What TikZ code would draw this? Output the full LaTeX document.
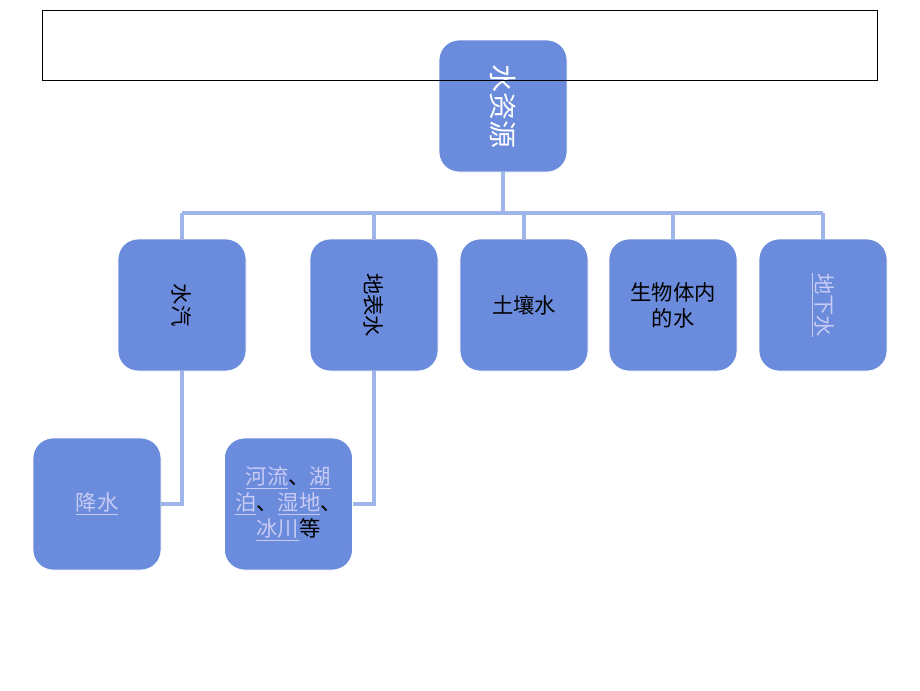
\documentclass[tikz,border=0pt]{standalone}
\usepackage{fontspec}
\setmainfont{Noto Sans CJK SC}
\usepackage{graphicx}
\usetikzlibrary{positioning}

\definecolor{boxblue}{HTML}{6B8BDC}
\definecolor{linkblue}{HTML}{9DB5E8}
\definecolor{hyper}{HTML}{C8CBF4}
\newcommand{\hl}[1]{\textcolor{hyper}{\underline{#1}}}
\newcommand{\vt}[1]{\rotatebox{-90}{#1}}

\begin{document}
\begin{tikzpicture}[
        x=0.75pt, y=-0.75pt,
        every node/.style={font=\fontsize{16}{19.5}\selectfont},
        topic/.style={rectangle, rounded corners=15pt, fill=boxblue, draw=white,
          line width=0.6pt, minimum width=96pt, minimum height=99pt,
          align=center, inner sep=2pt},
        link/.style={draw=linkblue, line width=2.6pt},
    ]
        \useasboundingbox (0,0) rectangle (920,690);

        \node[topic, text=white, font=\fontsize{21}{24}\selectfont] (src) at (503,106) {\vt{水资源}};

        \node[topic] (vapor)   at (182,305) {\vt{水汽}};
        \node[topic] (surface) at (374,305) {\vt{地表水}};
        \node[topic] (soil)    at (524,305) {土壤水};
        \node[topic] (bio)     at (673,305) {生物体内\\的水};
        \node[topic] (ground)  at (823,305) {\vt{\hl{地下水}}};

        \node[topic] (precip) at (97,504) {\hl{降水}};
        \node[topic, right=47pt of precip] (rivers) {\hl{河流}、\hl{湖}\\\hl{泊}、\hl{湿地}、\\\hl{冰川}等};

        % tree lines
        \coordinate (bus) at (0,213);
        \draw[link] (src.south) -- (src.south |- bus);
        \draw[link] (vapor.north |- bus) -- (ground.north |- bus);
        \foreach \n in {vapor, surface, soil, bio, ground}
            \draw[link] (\n.north |- bus) -- (\n.north);
        \draw[link] (vapor.south) |- (precip.east);
        \draw[link] (surface.south) |- (rivers.east);

        \draw[black, line width=0.75pt] (42,10) rectangle (877,80);
    \end{tikzpicture}
\end{document}
